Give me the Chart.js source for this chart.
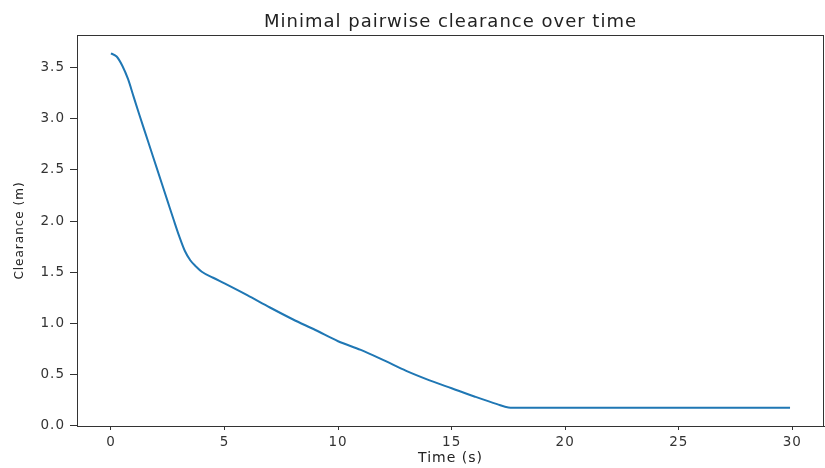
<!DOCTYPE html>
<html>
<head>
<meta charset="utf-8">
<script src="https://cdn.jsdelivr.net/npm/chart.js@4.4.1/dist/chart.umd.min.js"></script>
<style>
  html, body { margin: 0; padding: 0; background: #ffffff; }
  #c { display: block; }
</style>
</head>
<body>
<canvas id="c" width="825" height="468"></canvas>
<script>
// Time samples (s)
const timeS = [0, 0.25, 0.5, 0.75, 1.0, 1.25, 1.5, 1.75, 2.0, 2.25, 2.5, 2.75, 3.0, 3.25, 3.5, 3.75, 4.0, 4.5,
  5, 6, 7, 8, 9, 10, 11, 12, 13, 14, 15, 16, 17, 17.5, 18, 20, 22, 24, 26, 28, 29.9];
// Minimal pairwise clearance (m)
const clearanceM = [3.64, 3.61, 3.52, 3.39, 3.215, 3.04, 2.87, 2.70, 2.53, 2.36, 2.19, 2.02, 1.855, 1.71, 1.615, 1.555, 1.505, 1.446,
  1.39, 1.275, 1.155, 1.04, 0.935, 0.825, 0.74, 0.64, 0.535, 0.445, 0.365, 0.285, 0.21, 0.178, 0.175, 0.175, 0.175, 0.175, 0.175, 0.175, 0.175];
const xTickValues = [0, 5, 10, 15, 20, 25, 30];
const yTickValues = [0.0, 0.5, 1.0, 1.5, 2.0, 2.5, 3.0, 3.5];

const points = timeS.map((t, i) => ({ x: t, y: clearanceM[i] }));

const canvas = document.getElementById('c');

const frame = {
  id: 'frame',
  beforeUpdate(chart) { chart.ctx.letterSpacing = '1px'; },
  beforeLayout(chart) { chart.ctx.letterSpacing = '1px'; },
  beforeDraw(chart) { chart.ctx.letterSpacing = '1px'; },
  afterLayout(chart) {
    if (chart.titleBlock) {
      chart.titleBlock.left = chart.chartArea.left;
      chart.titleBlock.right = chart.chartArea.right;
    }
  },
  afterDraw(chart) {
    const a = chart.chartArea, ctx = chart.ctx;
    ctx.save();
    ctx.strokeStyle = '#333333';
    ctx.lineWidth = 1;
    ctx.strokeRect(Math.round(a.left) + 0.5, Math.round(a.top) + 0.5, Math.round(a.right - a.left) - 1, Math.round(a.bottom - a.top));
    ctx.restore();
  }
};

new Chart(canvas, {
  type: 'line',
  data: {
    datasets: [{
      data: points,
      borderColor: '#1f77b4',
      borderWidth: 2,
      pointRadius: 0,
      fill: false,
      cubicInterpolationMode: 'monotone'
    }]
  },
  options: {
    responsive: false,
    animation: false,
    layout: { padding: { left: 0, right: 1, top: 0, bottom: 0 } },
    plugins: {
      legend: { display: false },
      tooltip: { enabled: false },
      title: {
        display: true,
        text: 'Minimal pairwise clearance over time',
        color: '#222222',
        font: { family: 'DejaVu Sans', size: 18, weight: 'normal' },
        padding: { top: 11.2, bottom: 2.2 }
      }
    },
    scales: {
      x: {
        type: 'linear',
        min: -1.495,
        max: 31.395,
        afterBuildTicks(scale) { scale.ticks = xTickValues.map(v => ({ value: v })); },
        afterFit(scale) { scale.height = 42; },
        grid: { display: true, drawOnChartArea: false, drawTicks: true, tickLength: 4, color: '#333333' },
        border: { display: true, color: '#333333' },
        ticks: { color: '#333333', padding: 4, maxRotation: 0, font: { family: 'DejaVu Sans', size: 13.5 } },
        title: {
          display: true,
          text: 'Time (s)',
          color: '#222222',
          font: { family: 'DejaVu Sans', size: 14 },
          padding: { top: 0, bottom: 1 }
        }
      },
      y: {
        type: 'linear',
        min: -0.004,
        max: 3.82,
        afterBuildTicks(scale) { scale.ticks = yTickValues.map(v => ({ value: v })); },
        afterFit(scale) { scale.width = 77; },
        grid: { display: true, drawOnChartArea: false, drawTicks: true, tickLength: 7, color: '#333333' },
        border: { display: true, color: '#333333' },
        ticks: {
          color: '#333333', padding: 5,
          font: { family: 'DejaVu Sans', size: 13.5 },
          callback: v => Number(v).toFixed(1)
        },
        title: {
          display: true,
          text: 'Clearance (m)',
          color: '#222222',
          font: { family: 'DejaVu Sans', size: 12 },
          padding: { top: 13, bottom: 0 }
        }
      }
    }
  },
  plugins: [frame]
});
</script>
</body>
</html>
